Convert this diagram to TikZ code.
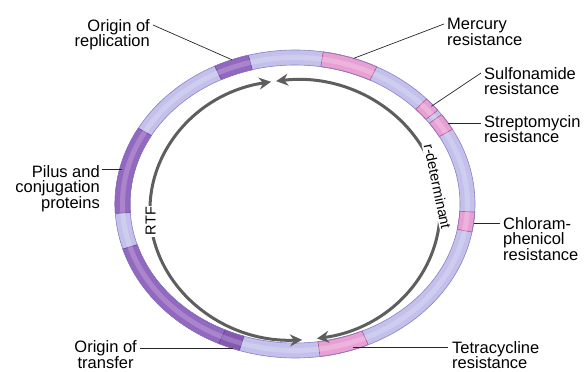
\documentclass[tikz,border=0pt]{standalone}
\usepackage{fontspec}
\setmainfont{Liberation Sans}
\usetikzlibrary{arrows.meta, positioning}
\definecolor{ringLav}{HTML}{C3C1EB}
\definecolor{ringEdge}{HTML}{8682C4}
\definecolor{plPurple}{HTML}{9468C0}
\definecolor{plPurpleD}{HTML}{8558B2}
\definecolor{plPurpleEdge}{HTML}{6A4499}
\definecolor{plPink}{HTML}{E8A0D4}
\definecolor{plPinkEdge}{HTML}{B2508F}
\definecolor{arrGrey}{HTML}{5E5E5E}
\newcommand{\rxo}{180 }
\newcommand{\ryo}{154 }
\newcommand{\rxi}{165 }
\newcommand{\ryi}{139 }
% #1 start angle, #2 end angle, #3 fill, #4 edge
\newcommand{\ringseg}[4]{%
  \filldraw[segline, draw=#4, fill=#3] (#1:\rxo and \ryo)
    arc[start angle=#1, end angle=#2, x radius=\rxo, y radius=\ryo]
    -- (#2:\rxi and \ryi)
    arc[start angle=#2, end angle=#1, x radius=\rxi, y radius=\ryi] -- cycle;}
\tikzset{
  lbl/.style       = {font=\fontsize{16.5}{15.8}\selectfont, inner sep=0pt},
  arclbl/.style    = {font=\fontsize{14.5}{16}\selectfont, fill=white, inner sep=1.5pt},
  leader/.style    = {line width=0.7pt, black!85},
  segline/.style   = {line width=0.6pt},
  genearrow/.style = {{Stealth[length=12pt, width=12pt]}-{Stealth[length=12pt, width=12pt]},
                      line width=3pt, arrGrey},
}

\begin{document}
\begin{tikzpicture}[x=1pt, y=1pt]
  \useasboundingbox (-295,-168) rectangle (289,204);

  % plasmid ring
  \fill[ringLav, even odd rule] (0,0) ellipse[x radius=\rxo, y radius=\ryo]
                                (0,0) ellipse[x radius=\rxi, y radius=\ryi];
  \ringseg{105}{116.5}{plPurple}{plPurpleEdge}
  \ringseg{150.5}{183.5}{plPurple}{plPurpleEdge}
  \ringseg{197}{245}{plPurple}{plPurpleEdge}
  \ringseg{245}{252}{plPurpleD}{plPurpleEdge}
  \ringseg{278}{294}{plPink}{plPinkEdge}
  \ringseg{-10.5}{-3}{plPink}{plPinkEdge}
  \ringseg{29}{35.5}{plPink}{plPinkEdge}
  \ringseg{37.5}{43}{plPink}{plPinkEdge}
  \ringseg{63}{81}{plPink}{plPinkEdge}
  \draw[white, opacity=0.2, line width=5pt] (0,0) ellipse[x radius=172.5, y radius=146.5];
  \draw[ringEdge, segline] (0,0) ellipse[x radius=\rxo, y radius=\ryo]
                           (0,0) ellipse[x radius=\rxi, y radius=\ryi];

  % RTF and r-determinant
  \begin{scope}[shift={(0,-6)}]
    \draw[genearrow] (99.5:145 and 130) arc[start angle=99.5, end angle=272.8, x radius=145, y radius=130];
    \draw[genearrow] (97.5:145 and 130) arc[start angle=97.5, end angle=-81.3, x radius=145, y radius=130];
    \node[arclbl, rotate=90] (rtf) at (184.9:145 and 130) {RTF};
    \node[arclbl, rotate=-78] (rdet) at (10.4:145 and 130) {r-determinant};
  \end{scope}

  % labels
  \node[lbl, anchor=north east, align=right] (orep) at (-145,185) {Origin of\\replication};
  \node[lbl, anchor=north west, align=left] (merc) at (152,186) {Mercury\\resistance};
  \node[lbl, anchor=north west, align=left] (sulf) at (189,137) {Sulfonamide\\resistance};
  \node[lbl, anchor=north west, align=left] (strep) at (189,89) {Streptomycin\\resistance};
  \node[lbl, anchor=north west, align=left] (chlor) at (208,-13) {Chloram-\\phenicol\\resistance};
  \node[lbl, anchor=north west, align=left] (tetra) at (157,-137) {Tetracycline\\resistance};
  \node[lbl, anchor=north east, align=center] (otr) at (-158,-136.5) {Origin of\\transfer};
  \node[lbl, anchor=north east, align=right] (pilus) at (-195,39) {Pilus and\\conjugation\\proteins};

  \coordinate (orepR)  at (110.5:\rxo and \ryo);
  \coordinate (mercR)  at (71:\rxo and \ryo);
  \coordinate (sulfR)  at (40:178 and 152);
  \coordinate (strepR) at (31.7:\rxo and \ryo);
  \coordinate (chlorR) at (-7.1:\rxo and \ryo);
  \coordinate (tetraR) at (-71:178 and 152);
  \coordinate (otrR)   at (250:\rxo and \ryo);
  \coordinate (pilusR) at (167:178 and 152);

  \draw[leader] ([shift={(3,-6)}]orep.north east) -- (orepR);
  \draw[leader] ([shift={(-3,-6)}]merc.north west) -- (mercR);
  \draw[leader] ([shift={(-3,-6)}]sulf.north west) -- (sulfR);
  \draw[leader] (strepR) -- ([xshift=-3pt]strepR -| strep.west);
  \draw[leader] (chlorR) -- ([xshift=-3pt]chlorR -| chlor.west);
  \draw[leader] (tetraR) -- ([xshift=-4pt]tetraR -| tetra.west);
  \draw[leader] (otrR) -- ([xshift=3pt]otrR -| otr.east);
  \draw[leader] (pilusR) -- ([xshift=2pt]pilusR -| pilus.east);
\end{tikzpicture}
\end{document}
